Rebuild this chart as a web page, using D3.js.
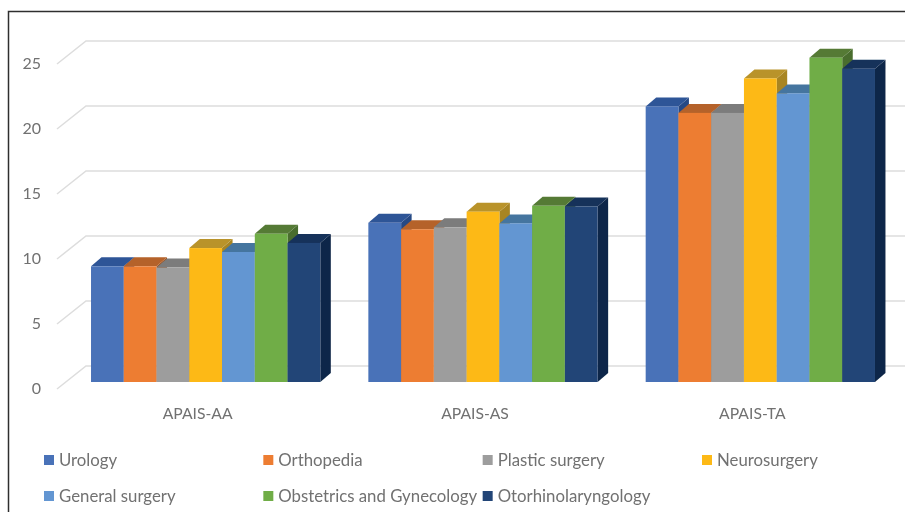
<!DOCTYPE html>
<html>
<head>
<meta charset="utf-8">
<script src="https://cdn.jsdelivr.net/npm/d3@7"></script>
<style>
html, body { margin: 0; padding: 0; background: #fff; }
svg { display: block; }
text { font-family: Lato, sans-serif; fill: #717171; }
</style>
</head>
<body>
<script>
// data
var groups = ["APAIS-AA", "APAIS-AS", "APAIS-TA"];
var specialties = ["Urology", "Orthopedia", "Plastic surgery", "Neurosurgery", "General surgery", "Obstetrics and Gynecology", "Otorhinolaryngology"];
var urology = [8.9, 12.25, 21.2];
var orthopedia = [8.9, 11.75, 20.7];
var plastic = [8.8, 11.9, 20.7];
var neuro = [10.3, 13.1, 23.35];
var general = [10, 12.2, 22.2];
var obstetrics = [11.4, 13.55, 24.95];
var otorhino = [10.7, 13.5, 24.1];
var yTicks = [0, 5, 10, 15, 20, 25];

var seriesValues = [urology, orthopedia, plastic, neuro, general, obstetrics, otorhino];
var frontColours = ["#4a72b8", "#ed7d31", "#9d9d9d", "#fdb913", "#6496d2", "#70ad47", "#234577"];
var topColours = ["#2f5597", "#b5622a", "#7b7b7b", "#b9932a", "#44749f", "#547a35", "#16305a"];
var sideColours = ["#284a85", "#9c5322", "#6a6a6a", "#a88523", "#3b6690", "#4a6d2e", "#102848"];

var width = 905, height = 512;
var svg = d3.select("body").append("svg").attr("width", width).attr("height", height);

// the source picture is a soft scan
var defs = svg.append("defs");
defs.append("filter").attr("id", "soft").append("feGaussianBlur").attr("stdDeviation", 0.5);
var chart = svg.append("g").attr("filter", "url(#soft)");

// frame, only top and left are inside the crop
chart.append("path")
   .attr("d", d3.line()([[8.5, height], [8.5, 11.5], [width, 11.5]]))
   .attr("fill", "none").attr("stroke", "#2e2e2e").attr("stroke-width", 1.5);

var y = d3.scaleLinear().domain([0, 25]).range([382, 57]);
var x0 = d3.scaleBand().domain(groups).range([67, 899]);
var barW = 229.3 / specialties.length;
var x1 = d3.scaleBand().domain(specialties).range([0, barW * specialties.length]);
var groupPad = (x0.bandwidth() - barW * specialties.length) / 2;

var depthX = 10.5, depthY = 9;
var wallBack = { x: 86, dy: -16 }, wallFront = { x: 57, dy: 7 };

// gridlines: side wall + back wall
chart.append("g").selectAll("path").data(yTicks).enter().append("path")
   .attr("d", function(d){
      return d3.line()([[wallFront.x, y(d) + wallFront.dy], [wallBack.x, y(d) + wallBack.dy], [width, y(d) + wallBack.dy]]);
   })
   .attr("fill", "none").attr("stroke", "#dddddd").attr("stroke-width", 1.5);

// y labels
var yAxis = d3.axisLeft(y).tickValues(yTicks).tickSize(0).tickPadding(0);
var yG = chart.append("g").attr("transform", "translate(41,6)").call(yAxis);
yG.select(".domain").remove();
yG.selectAll("text").attr("font-size", 16).style("font-family", "Lato, sans-serif").attr("fill", "#717171");

// bars, left to right so each one covers the side of the one before
groups.forEach(function(g, gi){
   specialties.forEach(function(s, si){
      var v = seriesValues[si][gi];
      var left = x0(g) + groupPad + x1(s);
      var right = left + x1.bandwidth();
      var top = y(v), bottom = y(0);
      var bar = chart.append("g").attr("class", "bar");
      bar.append("path")
         .attr("d", d3.line()([[right, top], [right + depthX, top - depthY], [right + depthX, bottom - depthY], [right, bottom]]))
         .attr("fill", sideColours[si]);
      bar.append("path")
         .attr("d", d3.line()([[left, top], [left + depthX, top - depthY], [right + depthX, top - depthY], [right, top]]))
         .attr("fill", topColours[si]);
      bar.append("rect")
         .attr("x", left).attr("y", top)
         .attr("width", x1.bandwidth()).attr("height", bottom - top)
         .attr("fill", frontColours[si]);
   });
});

// group labels
chart.append("g").selectAll("text").data(groups).enter().append("text")
   .text(function(d){ return d; })
   .attr("x", function(d){ return x0(d) + x0.bandwidth() / 2 - 8; })
   .attr("y", 418.5)
   .attr("text-anchor", "middle")
   .attr("font-size", 15.7);

// legend
var legendX = d3.scalePoint().domain([0, 1, 2, 3]).range([44, 702]);
var legendY = d3.scalePoint().domain([0, 1]).range([460, 496]);
var legend = chart.append("g").selectAll("g").data(specialties).enter().append("g")
   .attr("transform", function(d, i){ return "translate(" + legendX(i % 4) + "," + legendY(Math.floor(i / 4)) + ")"; });
legend.append("rect")
   .attr("x", 0).attr("y", -5).attr("width", 10).attr("height", 10)
   .attr("fill", function(d, i){ return frontColours[i]; });
legend.append("text")
   .text(function(d){ return d; })
   .attr("x", 15).attr("y", 5.5)
   .attr("font-size", 16.8);
</script>
</body>
</html>
